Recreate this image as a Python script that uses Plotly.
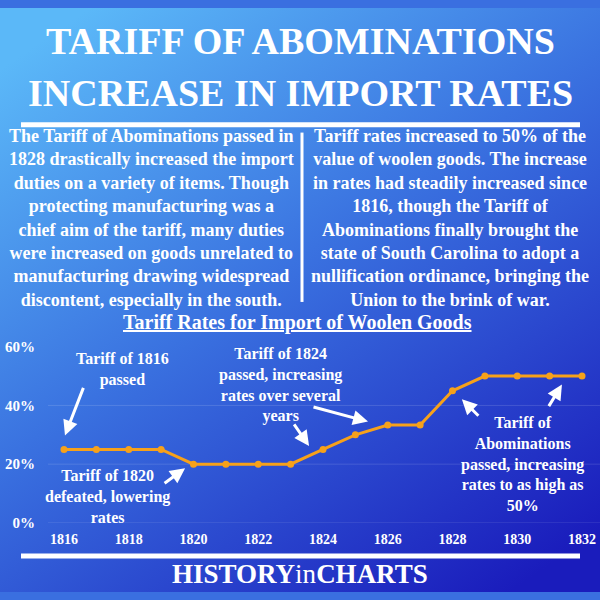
import base64

import plotly.graph_objects as go

# tariff rate on woolen goods, percent of value
years = [1816, 1817, 1818, 1819, 1820, 1821, 1822, 1823, 1824,
         1825, 1826, 1827, 1828, 1829, 1830, 1831, 1832]
rates = [25, 25, 25, 25, 20, 20, 20, 20, 25,
         30, 33.3, 33.3, 45, 50, 50, 50, 50]

x_ticks = [1816, 1818, 1820, 1822, 1824, 1826, 1828, 1830, 1832]
y_ticks = [0, 20, 40, 60]
y_tick_labels = ['0%', '20%', '40%', '60%']

title_lines = ['TARIFF OF ABOMINATIONS', 'INCREASE IN IMPORT RATES']
left_text = [
    'The Tariff of Abominations passed in',
    '1828 drastically increased the import',
    'duties on a variety of items. Though',
    'protecting manufacturing was a',
    'chief aim of the tariff, many duties',
    'were increased on goods unrelated to',
    'manufacturing drawing widespread',
    'discontent, especially in the south.',
]
right_text = [
    'Tariff rates increased to 50% of the',
    'value of woolen goods. The increase',
    'in rates had steadily increased since',
    '1816, though the Tariff of',
    'Abominations finally brought the',
    'state of South Carolina to adopt a',
    'nullification ordinance, bringing the',
    'Union to the brink of war.',
]
chart_title = 'Tariff Rates for Import of Woolen Goods'
notes = [
    'Tariff of 1816<br>passed',
    'Tariff of 1820<br>defeated, lowering<br>rates',
    'Tariff of 1824<br>passed, increasing<br>rates over several<br>years',
    'Tariff of<br>Abominations<br>passed, increasing<br>rates to as high as<br>50%',
]

FONT = 'Liberation Serif'
WHITE = 'white'
ORANGE = '#F7A11A'

# background gradient as an svg image stretched over the paper
svg = ('<svg xmlns="http://www.w3.org/2000/svg" width="600" height="600">'
       '<defs><linearGradient id="g" x1="0.15" y1="0" x2="0.85" y2="1">'
       '<stop offset="0" stop-color="#5bb8f8"/>'
       '<stop offset="0.45" stop-color="#3a72e0"/>'
       '<stop offset="1" stop-color="#1a1cbc"/>'
       '</linearGradient></defs>'
       '<rect width="600" height="600" fill="url(#g)"/></svg>')
bg_src = 'data:image/svg+xml;base64,' + base64.b64encode(svg.encode()).decode()

fig = go.Figure()
fig.add_trace(go.Scatter(x=years, y=rates, mode='lines+markers',
                         line=dict(color=ORANGE, width=3),
                         marker=dict(color=ORANGE, size=7),
                         hoverinfo='skip'))


def py(p):
    # pixel row -> paper y
    return 1 - p / 600


annotations = []
# title
for txt, row in zip(title_lines, [34, 87]):
    annotations.append(dict(text=txt, x=0.5, y=py(row), xref='paper', yref='paper',
                            showarrow=False, xanchor='center', yanchor='middle',
                            font=dict(family=FONT, size=38, color=WHITE, weight='bold')))
# two paragraphs
for lines, cx in [(left_text, 151), (right_text, 450)]:
    annotations.append(dict(text='<br>'.join(lines), x=cx / 600, y=py(216),
                            xref='paper', yref='paper', showarrow=False,
                            xanchor='center', yanchor='middle', align='center',
                            font=dict(family=FONT, size=18, color=WHITE, weight='bold')))
# chart title
annotations.append(dict(text='<u>' + chart_title + '</u>', x=297 / 600, y=py(323),
                        xref='paper', yref='paper', showarrow=False,
                        xanchor='center', yanchor='middle',
                        font=dict(family=FONT, size=20, color=WHITE, weight='bold')))
# footer
annotations.append(dict(text='<b>HISTORY</b>in<b>CHARTS</b>', x=0.5, y=py(582),
                        xref='paper', yref='paper', showarrow=False,
                        xanchor='center', yanchor='middle',
                        font=dict(family=FONT, size=27, color=WHITE)))

# chart notes (text), placed in data space
note_pos = [(1817.82, 52.4), (1817.33, 8.95), (1822.70, 47.1), (1830.15, 20.2)]
for txt, (nx, ny) in zip(notes, note_pos):
    annotations.append(dict(text=txt, x=nx, y=ny, xref='x', yref='y', showarrow=False,
                            xanchor='center', yanchor='middle', align='center',
                            font=dict(family=FONT, size=16, color=WHITE, weight='bold')))

# arrows: head in data space, tail offset in pixels
arrows = [(1816.03, 29.8, 19, -49), (1819.74, 18.6, -22, 16),
          (1823.57, 26.2, -16, -23), (1825.39, 34.5, -56, -15),
          (1828.29, 42.1, 18, 18), (1831.38, 47.1, -14, 23)]
for hx, hy, ax, ay in arrows:
    annotations.append(dict(text='', x=hx, y=hy, xref='x', yref='y', ax=ax, ay=ay,
                            showarrow=True, arrowhead=2, arrowsize=1,
                            arrowwidth=3, arrowcolor=WHITE, standoff=0))

shapes = [
    # bar under the title
    dict(type='line', xref='paper', yref='paper', x0=21 / 600, x1=580 / 600,
         y0=py(120), y1=py(120), line=dict(color=WHITE, width=5)),
    # divider between paragraphs
    dict(type='line', xref='paper', yref='paper', x0=302 / 600, x1=302 / 600,
         y0=py(128), y1=py(302), line=dict(color=WHITE, width=3)),
    # bar above the footer
    dict(type='line', xref='paper', yref='paper', x0=21 / 600, x1=580 / 600,
         y0=py(563), y1=py(563), line=dict(color=WHITE, width=5)),
]
# faint gridlines (none at the top tick)
for v in y_ticks[:-1]:
    shapes.append(dict(type='line', xref='x domain', yref='y', x0=0, x1=1, y0=v, y1=v,
                       layer='below', line=dict(color='rgba(255,255,255,0.13)', width=1)))

fig.update_layout(
    width=600, height=600,
    margin=dict(l=0, r=0, t=0, b=0),
    paper_bgcolor='#3a6fe0',
    plot_bgcolor='rgba(0,0,0,0)',
    showlegend=False,
    images=[dict(source=bg_src, xref='paper', yref='paper', x=0, y=1,
                 sizex=1, sizey=1, sizing='stretch', layer='below')],
    annotations=annotations,
    shapes=shapes,
    xaxis=dict(domain=[48 / 600, 1.0], range=[1815.506, 1832.556],
               tickvals=x_ticks, showgrid=False, zeroline=False, showline=False,
               ticks='', ticklabelstandoff=6, fixedrange=True,
               tickfont=dict(family=FONT, size=14, color=WHITE, weight='bold')),
    yaxis=dict(domain=[py(529), py(348)], range=[0, 60],
               tickvals=y_ticks, ticktext=y_tick_labels,
               showgrid=False, zeroline=False, showline=False,
               ticks='', ticklabelstandoff=12, fixedrange=True,
               tickfont=dict(family=FONT, size=15, color=WHITE, weight='bold')),
)

# drop the default page margin so the 600x600 figure fills the window
fig.write_html("out.html", config={'displayModeBar': False},
               post_script="document.body.style.margin='0';"
                           "document.body.style.overflow='hidden';")
